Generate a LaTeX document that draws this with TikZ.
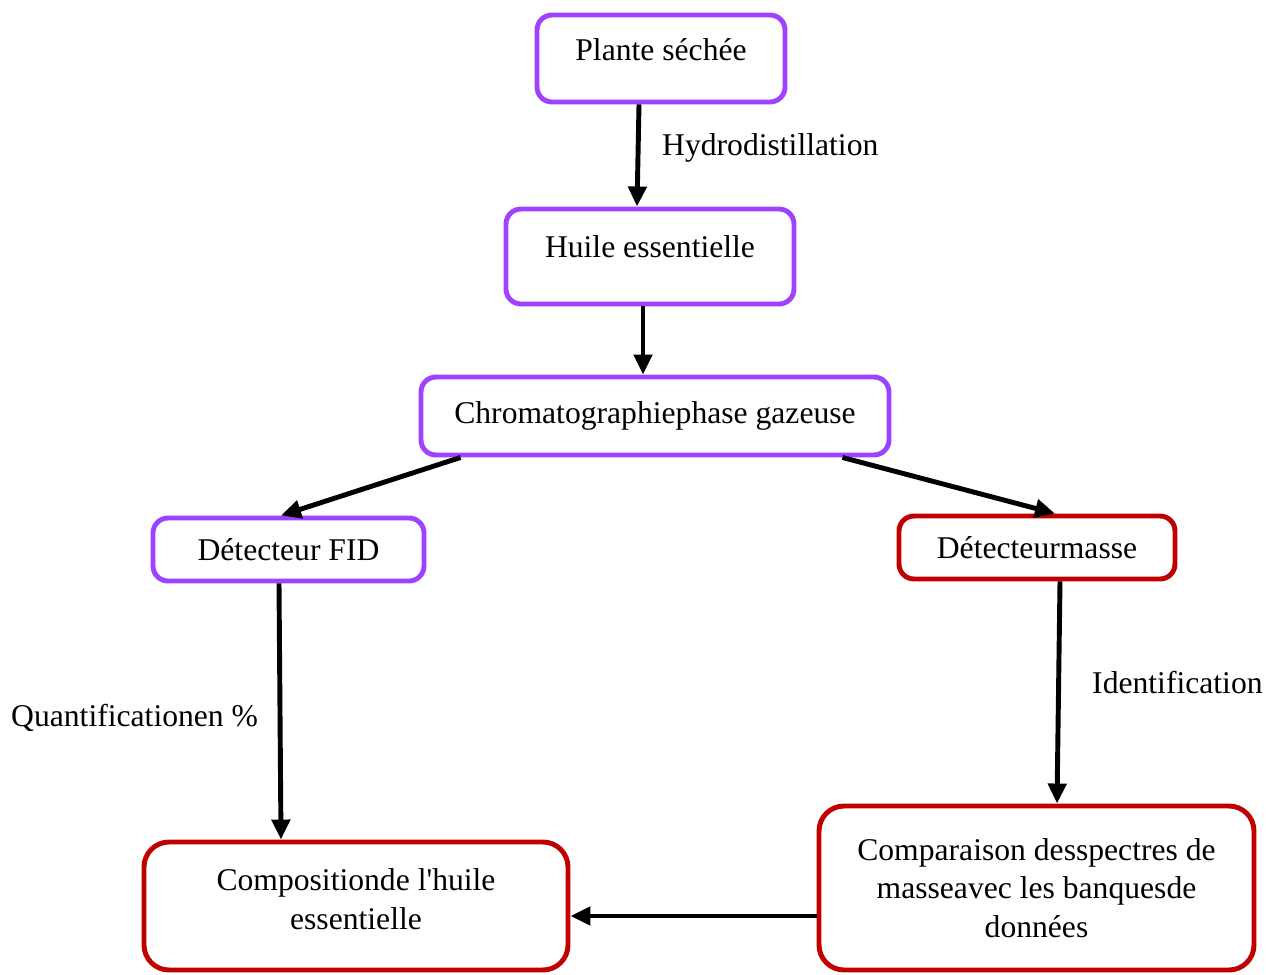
\documentclass[tikz,border=0pt]{standalone}
\usepackage{fontspec}
\setmainfont{Liberation Serif}
\usepackage{xcolor}
\usetikzlibrary{arrows.meta}

\definecolor{boxpurple}{RGB}{158,66,255}
\definecolor{boxred}{RGB}{192,0,0}

\begin{document}
\begin{tikzpicture}[
    every node/.style={font=\fontsize{18}{22}\selectfont},
    purplebox/.style={draw=boxpurple, line width=2.8pt, rounded corners=0.3cm, align=center},
    redbox/.style={draw=boxred, line width=2.8pt, rounded corners=0.3cm, align=center},
    flow/.style={line width=2.8pt, -{Triangle[length=0.4cm, width=0.36cm]}}
  ]
  \useasboundingbox (0, 0) rectangle (25.32, -19.48);

  % Boxes
  \node[purplebox, minimum width=4.96cm, minimum height=1.74cm, text depth=0.35cm]
    (plante) at (13.22, -1.17) {Plante séchée};
  \node[purplebox, minimum width=5.76cm, minimum height=1.9cm, text depth=0.4cm]
    (huile) at (13.0, -5.13) {Huile essentielle};
  \node[purplebox, minimum width=9.36cm, minimum height=1.56cm]
    (chromato) at (13.1, -8.32) {Chromatographiephase gazeuse};
  \node[purplebox, minimum width=5.42cm, minimum height=1.26cm]
    (fid) at (5.77, -10.99) {Détecteur FID};
  \node[redbox, minimum width=5.52cm, minimum height=1.26cm]
    (masse) at (20.74, -10.95) {Détecteurmasse};
  \node[redbox, minimum width=8.48cm, minimum height=2.56cm, rounded corners=0.5cm, text depth=0.28cm]
    (compo) at (7.12, -18.12) {Compositionde l\textquotesingle huile\\essentielle};
  \node[redbox, minimum width=8.7cm, minimum height=3.28cm, rounded corners=0.5cm]
    (compar) at (20.73, -17.76) {Comparaison desspectres de\\masseavec les banquesde\\données};

  % Labels
  \node[anchor=west] (hydro) at (13.12, -2.95) {Hydrodistillation};
  \node[anchor=west] (quanti) at (0.1, -14.36) {Quantificationen \%};
  \node[anchor=west] (ident) at (21.72, -13.66) {Identification};

  % Arrows
  \draw[flow] ([xshift=-0.44cm]plante.south) -- ([xshift=-0.26cm]huile.north);
  \draw[flow] ([xshift=-0.14cm]huile.south) -- ([xshift=-0.24cm]chromato.north);
  \draw[flow] ([xshift=0.84cm]chromato.south west) -- ([xshift=-0.15cm]fid.north);
  \draw[flow] ([xshift=-0.98cm]chromato.south east) -- ([xshift=0.36cm]masse.north);
  \draw[flow] ([xshift=-0.19cm]fid.south) -- ([xshift=-1.5cm]compo.north);
  \draw[flow] ([xshift=0.46cm]masse.south) -- ([xshift=0.41cm]compar.north);
  \draw[flow] ([yshift=-0.56cm]compar.west) -- ([yshift=-0.2cm]compo.east);
\end{tikzpicture}
\end{document}
